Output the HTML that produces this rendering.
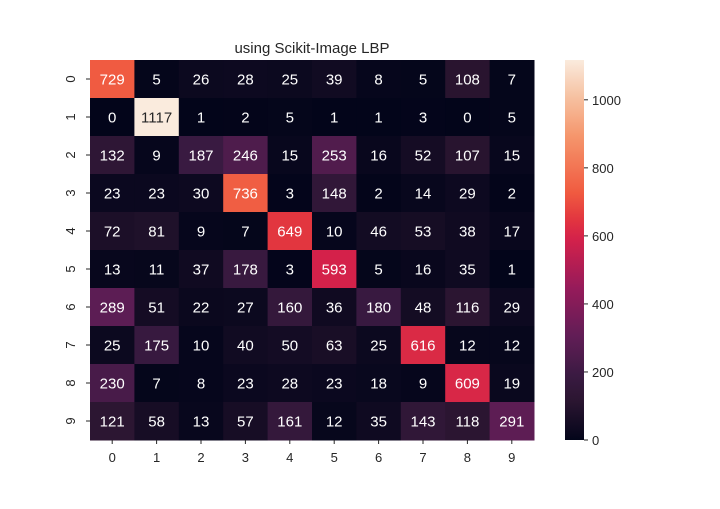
<!DOCTYPE html>
<html><head><meta charset="utf-8"><style>
body{margin:0;background:#fff;}
svg{font-family:"Liberation Sans","DejaVu Sans",sans-serif;}
</style></head><body>
<svg id="chart" width="720" height="504" viewBox="0 0 720 504" xmlns="http://www.w3.org/2000/svg">
<rect width="720" height="504" fill="#fff"/>
<text x="312" y="53" font-size="15" text-anchor="middle" fill="#262626">using Scikit-Image LBP</text>
<defs><linearGradient id="cbg" x1="0" y1="1" x2="0" y2="0"></linearGradient></defs>
<g id="cells"></g><g id="axes"></g><g id="cbar"></g>
</svg>
<script>
const rowLabels=["0","1","2","3","4","5","6","7","8","9"];
const colLabels=["0","1","2","3","4","5","6","7","8","9"];
const matrix=[
[729,5,26,28,25,39,8,5,108,7],
[0,1117,1,2,5,1,1,3,0,5],
[132,9,187,246,15,253,16,52,107,15],
[23,23,30,736,3,148,2,14,29,2],
[72,81,9,7,649,10,46,53,38,17],
[13,11,37,178,3,593,5,16,35,1],
[289,51,22,27,160,36,180,48,116,29],
[25,175,10,40,50,63,25,616,12,12],
[230,7,8,23,28,23,18,9,609,19],
[121,58,13,57,161,12,35,143,118,291]];
const cbTicks=[0,200,400,600,800,1000];
const vmin=0,vmax=1117;
const L=90,R=534,T=60,B=440;
const cw=(R-L)/colLabels.length, rh=(B-T)/rowLabels.length;
const xs=i=>L+i*cw, ys=j=>T+j*rh;
const stops=[[0,[3,5,26]],[0.1,[42,21,48]],[0.17,[58,26,66]],[0.23,[82,28,78]],[0.27,[96,29,86]],[0.4,[150,27,90]],[0.53,[212,33,74]],[0.58,[226,53,63]],[0.65,[240,90,64]],[0.8,[245,150,108]],[0.9,[246,192,160]],[1,[250,235,221]]];
function cmap(t){t=Math.max(0,Math.min(1,t));for(let k=1;k<stops.length;k++){if(t<=stops[k][0]){const a=stops[k-1],b=stops[k];const f=(t-a[0])/(b[0]-a[0]);return a[1].map((v,i)=>Math.round(v+(b[1][i]-v)*f));}}return stops[stops.length-1][1];}
const NS="http://www.w3.org/2000/svg";
function mk(tag,attrs,parent){const e=document.createElementNS(NS,tag);for(const k in attrs)e.setAttribute(k,attrs[k]);parent.appendChild(e);return e;}
const cells=document.getElementById('cells');
matrix.forEach((row,j)=>row.forEach((v,i)=>{
 const c=cmap((v-vmin)/(vmax-vmin));
 const r=mk('rect',{x:xs(i),y:ys(j),width:cw+0.5,height:rh+0.5,fill:`rgb(${c})`},cells);
 
 
 const lum=(0.2126*c[0]+0.7152*c[1]+0.0722*c[2])/255;
 const t=mk('text',{x:xs(i)+cw/2,y:ys(j)+rh/2+5.5,'font-size':15,'text-anchor':'middle',fill:lum>0.5?'#262626':'#fff'},cells);
 t.textContent=v;
 
 
}));
const ax=document.getElementById('axes');
colLabels.forEach((l,i)=>{
 mk('line',{x1:xs(i)+cw/2,x2:xs(i)+cw/2,y1:B,y2:B+4,stroke:'#262626'},ax);
 const t=mk('text',{x:xs(i)+cw/2,y:B+22,'font-size':13,'text-anchor':'middle',fill:'#262626'},ax);
 t.textContent=l;
 
 
});
rowLabels.forEach((l,j)=>{
 const y=ys(j)+rh/2;
 mk('line',{x1:L-4,x2:L,y1:y,y2:y,stroke:'#262626'},ax);
 const t=mk('text',{x:0,y:0,'font-size':13,'text-anchor':'middle',fill:'#262626',transform:`translate(75,${y}) rotate(-90)`},ax);
 t.textContent=l;
 
 
});
const g=document.getElementById('cbg');
for(let k=0;k<=40;k++){const c=cmap(k/40);mk('stop',{offset:k/40,'stop-color':`rgb(${c})`},g);}
const cb=document.getElementById('cbar');
const CL=565,CR=584;
const cy=v=>B-(v-vmin)/(vmax-vmin)*(B-T);
const bar=mk('rect',{x:CL,y:T,width:CR-CL,height:B-T,fill:'url(#cbg)'},cb);


cbTicks.forEach(v=>{
 mk('line',{x1:CR,x2:CR+4,y1:cy(v),y2:cy(v),stroke:'#262626'},cb);
 const t=mk('text',{x:CR+8,y:cy(v)+5,'font-size':13,fill:'#262626'},cb);
 t.textContent=v;
 
 
});
</script>
</body></html>
